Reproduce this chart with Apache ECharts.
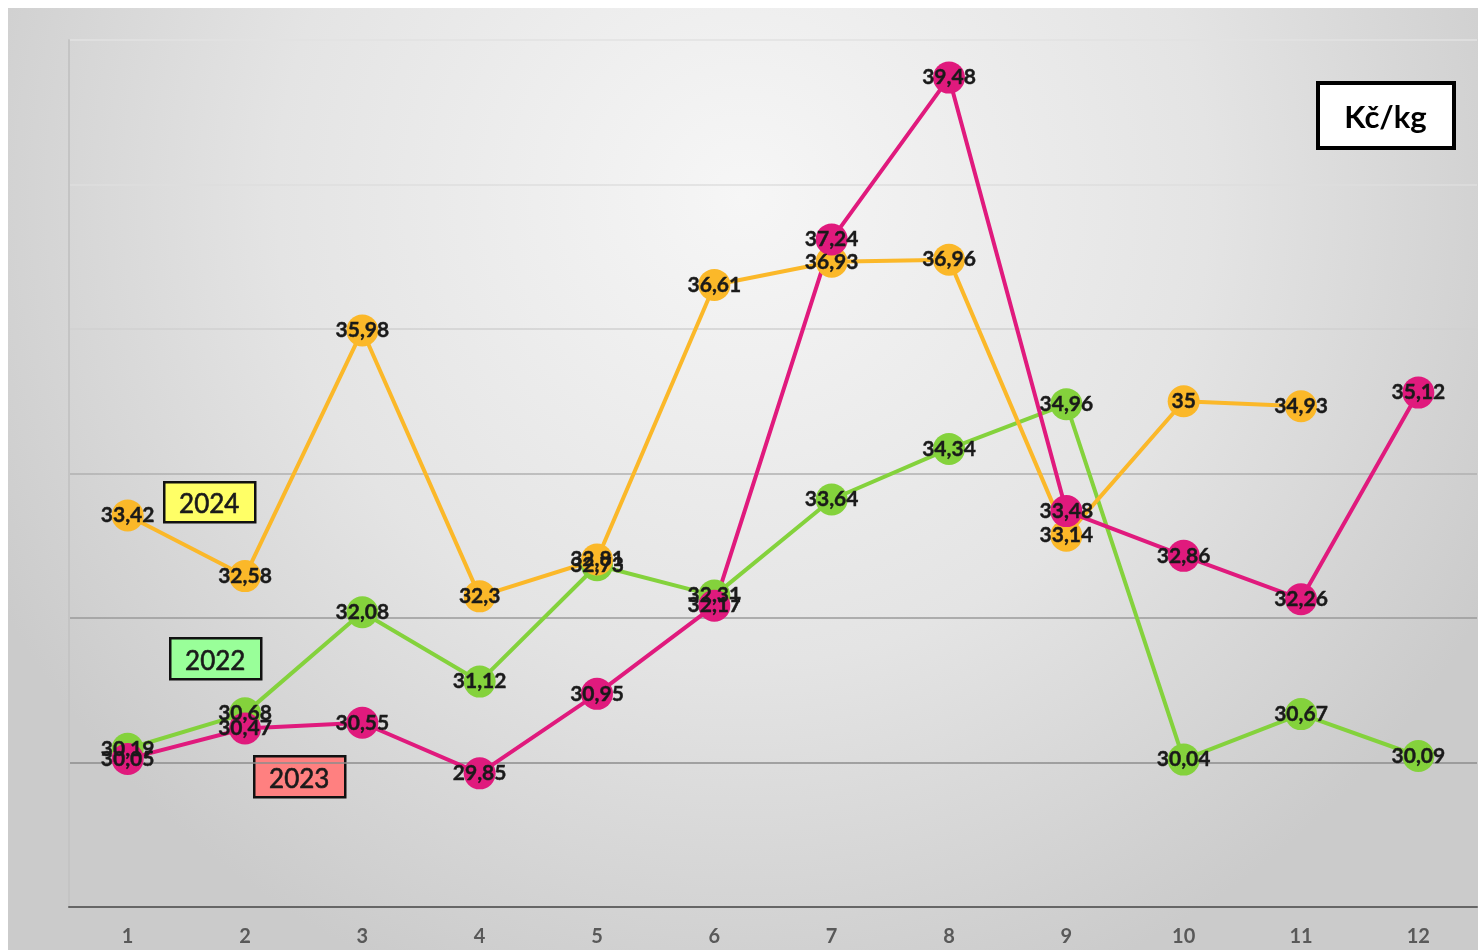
<!DOCTYPE html>
<html>
<head>
<meta charset="utf-8">
<script src="https://cdn.jsdelivr.net/npm/echarts@6/dist/echarts.min.js"></script>
<style>
html,body{margin:0;padding:0;background:#fff;}
#chart{width:1478px;height:950px;}
</style>
</head>
<body>
<div id="chart"></div>
<script>
const months = ['1','2','3','4','5','6','7','8','9','10','11','12'];
const values2022 = [30.19, 30.68, 32.08, 31.12, 32.73, 32.31, 33.64, 34.34, 34.96, 30.04, 30.67, 30.09];
const values2023 = [30.05, 30.47, 30.55, 29.85, 30.95, 32.17, 37.24, 39.48, 33.48, 32.86, 32.26, 35.12];
const values2024 = [33.42, 32.58, 35.98, 32.3, 32.81, 36.61, 36.93, 36.96, 33.14, 35, 34.93, null];
const unitLabel = 'Kč/kg';

const chart = echarts.init(document.getElementById('chart'));
const fmt = p => String(p.value).replace('.', ',');
function mkSeries(name, data, color) {
  return {
    name, type: 'line', data,
    symbol: 'circle', symbolSize: 32,
    lineStyle: {color, width: 4},
    itemStyle: {color},
    label: {
      show: true, position: 'inside', formatter: fmt,
      fontFamily: 'Lato', fontWeight: 'bold', fontSize: 21, color: '#1a1a1a',
      textBorderColor: '#1a1a1a', textBorderWidth: 0.4
    },
    labelLayout: {hideOverlap: false},
    connectNulls: false
  };
}
function boxText(t) {
  return {fontFamily: 'Lato', fontSize: 26, fill: '#1a1a1a', stroke: '#1a1a1a', lineWidth: 0.6, align: 'center', verticalAlign: 'middle', text: t};
}
const option = {
  backgroundColor: '#ffffff',
  animation: false,
  graphic: [
    {type: 'rect', z: -100, shape: {x: 8, y: 8, width: 1470, height: 942},
     style: {fill: {type: 'radial', x: 0.5, y: 0.2, r: 0.9,
       colorStops: [{offset: 0, color: '#f6f6f6'}, {offset: 0.55, color: '#e4e4e4'}, {offset: 1, color: '#cbcbcb'}]}}},
    {type: 'group', left: 163, top: 481, z: 100, children: [
      {type: 'rect', shape: {width: 91, height: 40}, style: {fill: '#ffff66', stroke: '#111', lineWidth: 2.5}},
      {type: 'text', x: 45, y: 22, style: boxText('2024')}
    ]},
    {type: 'group', left: 169, top: 637, z: 100, children: [
      {type: 'rect', shape: {width: 91, height: 41}, style: {fill: '#99ff99', stroke: '#111', lineWidth: 2.5}},
      {type: 'text', x: 45, y: 23, style: boxText('2022')}
    ]},
    {type: 'group', left: 253, top: 755, z: 100, children: [
      {type: 'rect', shape: {width: 91, height: 41}, style: {fill: '#ff8080', stroke: '#111', lineWidth: 2.5}},
      {type: 'text', x: 45, y: 23, style: boxText('2023')}
    ]},
    {type: 'group', left: 1316, top: 81, z: 100, children: [
      {type: 'rect', shape: {x: 1.5, y: 1.5, width: 136, height: 65}, style: {fill: '#ffffff', stroke: '#000', lineWidth: 4}},
      {type: 'text', x: 69, y: 36, style: {text: unitLabel, fontFamily: 'Lato', fontWeight: 'bold', fontSize: 31, fill: '#000', align: 'center', verticalAlign: 'middle'}}
    ]}
  ],
  grid: {left: 69, right: 1, top: 40, bottom: 43, containLabel: false},
  xAxis: {
    type: 'category', data: months, boundaryGap: true,
    axisLine: {lineStyle: {color: '#666666', width: 2}},
    axisTick: {show: false},
    axisLabel: {fontFamily: 'Lato', fontWeight: 'bold', fontSize: 20, color: '#595959', margin: 20}
  },
  yAxis: {
    type: 'value', min: 28, max: 40, interval: 2,
    axisLine: {show: true, lineStyle: {color: '#c4c4c4', width: 2}},
    axisTick: {show: false},
    axisLabel: {show: false},
    splitLine: {show: true, lineStyle: {color: ['#8c8c8c', '#8c8c8c', '#9a9a9a', '#b0b0b0', '#d0d0d0', '#dedede', '#e2e2e2'], width: 1.5}}
  },
  series: [
    mkSeries('2022', values2022, '#84d23c'),
    mkSeries('2024', values2024, '#fbb829'),
    mkSeries('2023', values2023, '#e01a7d')
  ]
};
chart.setOption(option);
</script>
</body>
</html>
